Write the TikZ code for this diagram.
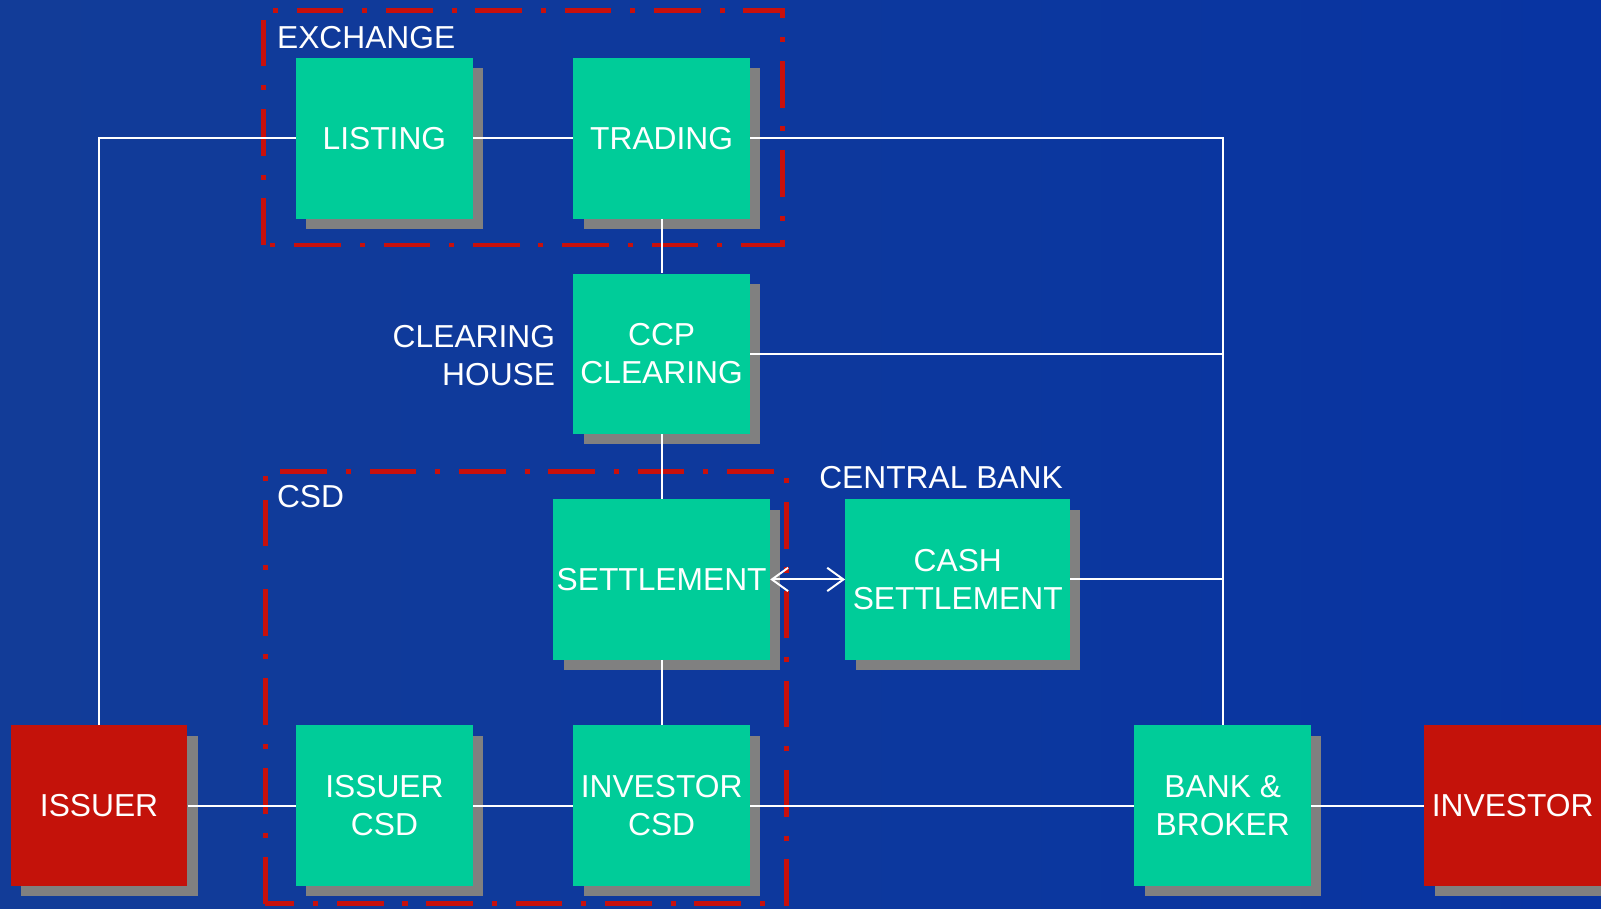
\documentclass[tikz,border=0pt]{standalone}
\usepackage{xcolor}
\usepackage{fontspec}
\setmainfont{Liberation Sans}
\usepackage{tikz}
\usetikzlibrary{shapes.geometric, arrows.meta, positioning, calc, shadows}
\definecolor{bgleft}{RGB}{18, 60, 152}
\definecolor{bgright}{RGB}{8, 52, 162}
\definecolor{boxgreen}{RGB}{0, 204, 153}
\definecolor{boxred}{RGB}{196, 18, 10}
\definecolor{shadowgray}{RGB}{128, 128, 128}
\definecolor{frame}{RGB}{200, 16, 12}

\tikzset{
    box/.style={rectangle, fill=boxgreen, text=white, align=center,
        minimum width=3.46cm, minimum height=3.14cm, inner sep=0pt,
        font=\fontsize{17.7}{21}\selectfont,
        drop shadow={shadow xshift=0.2cm, shadow yshift=-0.2cm, fill=shadowgray, opacity=1}},
    party/.style={box, fill=boxred},
    groupframe/.style={draw=frame, line width=2.7pt,
        dash pattern=on 26pt off 10.5pt on 2.8pt off 10.5pt},
    wire/.style={draw=white, line width=1.1pt},
    grouptitle/.style={text=white, font=\fontsize{17.7}{21}\selectfont, inner sep=0pt}
}

\begin{document}
\begin{tikzpicture}
    % Background
    \useasboundingbox (0,0) rectangle (31.36,17.8);
    \clip (0,0) rectangle (31.36,17.8);
    \shade[left color=bgleft, right color=bgright] (0,0) rectangle (31.36,17.8);

    % Dashed group frames
    \draw[groupframe] (5.16,13.0) rectangle (15.32,17.6);
    \draw[groupframe] (5.2,0.1) rectangle (15.4,8.56);

    % Group titles
    \node[grouptitle, anchor=west] (exchangetitle) at (5.42,17.06) {EXCHANGE};
    \node[grouptitle, anchor=west] (csdtitle) at (5.42,8.08) {CSD};
    \node[grouptitle, anchor=east, align=right] (clearinghouse) at (10.88,10.83) {CLEARING\\HOUSE};
    \node[grouptitle, anchor=west] (centralbank) at (16.04,8.44) {CENTRAL BANK};

    % Boxes
    \node[box] (listing) at (7.53,15.09) {LISTING};
    \node[box] (trading) at (12.96,15.09) {TRADING};
    \node[box] (ccp) at (12.96,10.87) {CCP\\CLEARING};
    \node[box, minimum width=4.24cm] (settlement) at (12.96,6.45) {SETTLEMENT};
    \node[box, minimum width=4.4cm] (cash) at (18.76,6.45) {CASH\\SETTLEMENT};
    \node[party] (issuer) at (1.94,2.02) {ISSUER};
    \node[box] (issuercsd) at (7.53,2.02) {ISSUER\\CSD};
    \node[box] (investorcsd) at (12.96,2.02) {INVESTOR\\CSD};
    \node[box] (bank) at (23.95,2.02) {BANK \&\\BROKER};
    \node[party] (investor) at (29.63,2.02) {INVESTOR};

    % Connectors
    \draw[wire] (issuer.north) |- (listing.west);
    \draw[wire] (listing.east) -- (trading.west);
    \draw[wire] (trading.east) -| (bank.north);
    \draw[wire] (trading.south) -- (ccp.north);
    \draw[wire] (ccp.east) -- (ccp.east -| bank.north);
    \draw[wire] (ccp.south) -- (settlement.north);
    \draw[wire, {Straight Barb[length=9pt,width=13pt]}-{Straight Barb[length=9pt,width=13pt]}]
        (settlement.east) -- (cash.west);
    \draw[wire] (cash.east) -- (cash.east -| bank.north);
    \draw[wire] (settlement.south) -- (investorcsd.north);
    \draw[wire] (issuer.east) -- (issuercsd.west);
    \draw[wire] (issuercsd.east) -- (investorcsd.west);
    \draw[wire] (investorcsd.east) -- (bank.west);
    \draw[wire] (bank.east) -- (investor.west);

\end{tikzpicture}
\end{document}
